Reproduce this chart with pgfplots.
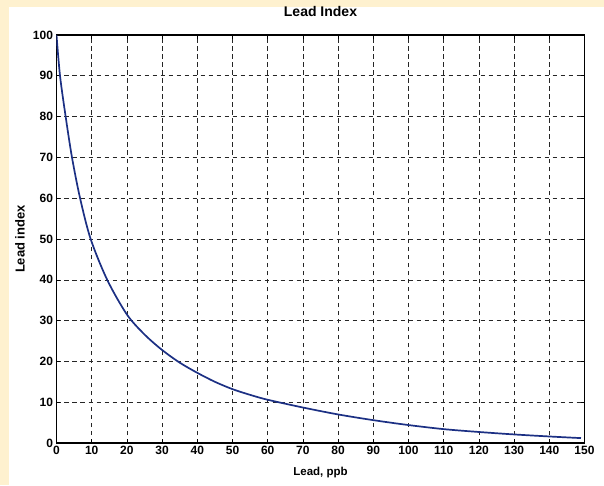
\documentclass[border=0pt]{standalone}
\usepackage{fontspec}
\setmainfont{Liberation Sans}
\usepackage{pgfplots}
\pgfplotsset{compat=1.18}

\definecolor{cream}{RGB}{254,241,207}
\definecolor{leadblue}{RGB}{28,48,132}

\pgfplotstableread{
x y
0 100
1.0 90
2.6 80
4.4 70
6.7 60
9.7 50
14.4 40
20 31.5
25 26.6
30 22.8
35 19.7
40 17.2
45 15.0
50 13.2
55 11.8
60 10.6
70 8.7
80 7.0
90 5.6
100 4.4
110 3.4
120 2.7
130 2.1
140 1.6
149 1.2
}\leadtable

\begin{document}
\begin{tikzpicture}[x=1pt,y=1pt]
% page: 604 x 485, axis box lower left at (0,0)
\fill[cream] (-56.5,-42) rectangle (547.5,443);
\fill[white] (-47.5,-42) rectangle (547.5,436);
\useasboundingbox (-56.5,-42) rectangle (547.5,443);
\begin{axis}[
    at={(0,0)}, anchor=south west,
    scale only axis,
    width=528pt, height=408pt,
    xmin=0, xmax=150, ymin=0, ymax=100,
    xtick={0,10,...,150},
    ytick={0,10,...,100},
    grid=major,
    major grid style={black!85, dash pattern=on 4.5pt off 3.5pt, line width=0.6pt},
    axis line style={black, line width=1.1pt},
    tick align=inside,
    major tick length=4pt,
    tick style={black, line width=0.6pt},
    /pgf/number format/assume math mode=true,
    ticklabel style={font=\fontsize{12}{14}\selectfont\bfseries},
    title={Lead Index},
    title style={font=\fontsize{14}{16}\selectfont\bfseries, at={(axis description cs:0.5,1.042)}, anchor=center},
    xlabel={Lead, ppb},
    xlabel style={font=\fontsize{11.5}{13}\selectfont\bfseries, at={(axis description cs:0.5,-0.073)}, anchor=center},
    ylabel={Lead index},
    ylabel style={font=\fontsize{13}{15}\selectfont\bfseries, at={(axis description cs:-0.069,0.5)}, anchor=center, rotate=0},
]
\addplot[leadblue, line width=1.7pt, smooth, tension=0.5] table[x=x,y=y] {\leadtable};
\end{axis}
\end{tikzpicture}
\end{document}
